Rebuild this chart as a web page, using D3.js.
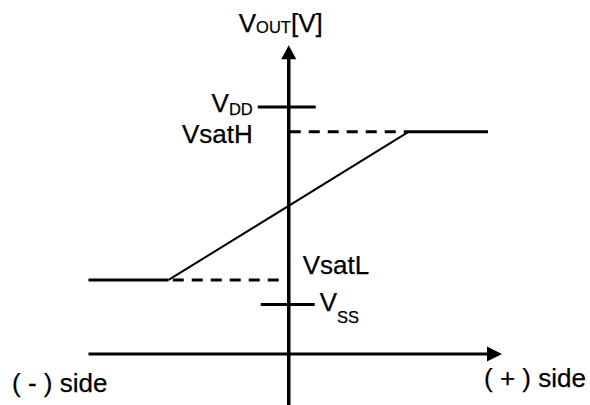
<!DOCTYPE html>
<html>
<head>
<meta charset="utf-8">
<script src="https://cdn.jsdelivr.net/npm/d3@7"></script>
<style>
  html, body { margin: 0; padding: 0; background: #fff; }
  svg { display: block; }
  text { font-family: "Liberation Sans", Arial, sans-serif; fill: #000; stroke: #000; stroke-width: 0.25; }
</style>
</head>
<body>
<svg id="chart" width="590" height="405"></svg>
<script>
// ---- data (conceptual transfer characteristic, VOUT vs input) ----
const levelNames = ["VSS", "VsatL", "VsatH", "VDD"];
const levelValues = [2, 3, 9, 10];
const curveX = [-200, -120, 120, 199];
const curveY = [3, 3, 9, 9];
const xDomain = [-200, 213];
const yDomain = [-2.1, 12.5];

const svg = d3.select("#chart");

const x = d3.scaleLinear().domain([-200, 213]).range([88.5, 502]);
const y = d3.scaleLinear().domain([0, 10]).range([354, 107]);

const lv = {};
levelNames.forEach((n, i) => lv[n] = levelValues[i]);

const x0 = x(0), y0 = y(0);

// dashed guides
svg.append("line")
  .attr("x1", x0 + 1).attr("x2", x(curveX[2]))
  .attr("y1", y(lv.VsatH)).attr("y2", y(lv.VsatH))
  .attr("stroke", "#000").attr("stroke-width", 3)
  .attr("stroke-dasharray", "11,8");
svg.append("line")
  .attr("x1", x0 - 10).attr("x2", x(curveX[1]))
  .attr("y1", y(lv.VsatL)).attr("y2", y(lv.VsatL))
  .attr("stroke", "#000").attr("stroke-width", 3)
  .attr("stroke-dasharray", "11,8");

// ticks for VDD and VSS
svg.append("line")
  .attr("x1", x0 - 31).attr("x2", x0 + 27)
  .attr("y1", y(lv.VDD)).attr("y2", y(lv.VDD))
  .attr("stroke", "#000").attr("stroke-width", 3);
svg.append("line")
  .attr("x1", x0 - 28).attr("x2", x0 + 26)
  .attr("y1", y(lv.VSS)).attr("y2", y(lv.VSS))
  .attr("stroke", "#000").attr("stroke-width", 3);

// transfer curve: plateaus thick, slope thinner
const pts = curveX.map((v, i) => [x(v), y(curveY[i])]);
svg.append("line")
  .attr("x1", pts[0][0]).attr("y1", pts[0][1])
  .attr("x2", pts[1][0]).attr("y2", pts[1][1])
  .attr("stroke", "#000").attr("stroke-width", 3);
svg.append("line")
  .attr("x1", pts[1][0]).attr("y1", pts[1][1])
  .attr("x2", pts[2][0]).attr("y2", pts[2][1])
  .attr("stroke", "#000").attr("stroke-width", 2);
svg.append("line")
  .attr("x1", pts[2][0]).attr("y1", pts[2][1])
  .attr("x2", pts[3][0]).attr("y2", pts[3][1])
  .attr("stroke", "#000").attr("stroke-width", 3);

// axes
const yTop = y(yDomain[1]), yBot = y(yDomain[0]);
const xLeft = x(xDomain[0]), xRight = x(xDomain[1]);
svg.append("line")
  .attr("x1", x0).attr("x2", x0)
  .attr("y1", yTop + 10).attr("y2", yBot)
  .attr("stroke", "#000").attr("stroke-width", 3.5);
svg.append("line")
  .attr("x1", xLeft).attr("x2", xRight - 10)
  .attr("y1", y0).attr("y2", y0)
  .attr("stroke", "#000").attr("stroke-width", 3);
// arrowheads
svg.append("path")
  .attr("d", `M${x0},${yTop} L${x0 - 7.5},${yTop + 14} L${x0 + 7.5},${yTop + 14} Z`)
  .attr("fill", "#000");
svg.append("path")
  .attr("d", `M${xRight},${y0} L${xRight - 15},${y0 - 7.5} L${xRight - 15},${y0 + 7.5} Z`)
  .attr("fill", "#000");

// labels
const big = 26, small = 16.5;
function subLabel(px, py, main, sub, subDy, anchor, tail) {
  const t = svg.append("text").attr("x", px).attr("y", py)
    .attr("text-anchor", anchor || "start");
  t.append("tspan").attr("font-size", big).text(main);
  t.append("tspan").attr("font-size", small).attr("dy", subDy).text(sub);
  if (tail) t.append("tspan").attr("font-size", big).attr("dy", -subDy).text(tail);
  return t;
}
subLabel(x0 - 50, 32, "V", "OUT", 1, "start", "[V]");
subLabel(x0 - 36, y(lv.VDD) + 5, "V", "DD", 3, "end");
svg.append("text").attr("x", x0 - 36).attr("y", y(lv.VsatH) + 11)
  .attr("text-anchor", "end").attr("font-size", big).text("VsatH");
svg.append("text").attr("x", x0 + 14).attr("y", y(lv.VsatL) - 6)
  .attr("font-size", big).text("VsatL");
subLabel(x0 + 31, y(lv.VSS) + 6, "V", "SS", 12, "start");

svg.append("text").attr("x", 12).attr("y", y0 + 38)
  .attr("font-size", big).text("( - ) side");
svg.append("text").attr("x", xRight - 18).attr("y", y0 + 33)
  .attr("font-size", big).text("( + ) side");
</script>
</body>
</html>
